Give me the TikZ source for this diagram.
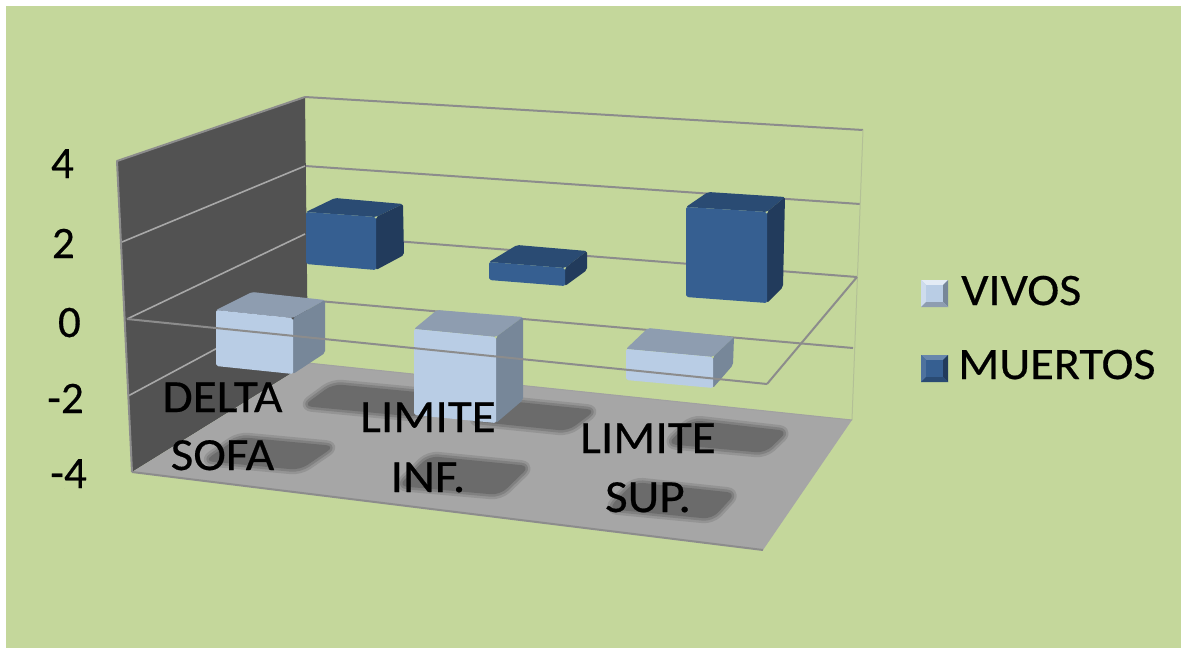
\documentclass[tikz,border=0pt]{standalone}
\usepackage{fontspec}
\setmainfont{Carlito}[FakeBold=0.4]
\newfontfamily\chartfont{Carlito}[FakeBold=0.4]
\definecolor{bgc}{HTML}{C4D79B}
\definecolor{wallc}{HTML}{525252}
\definecolor{floorc}{HTML}{A6A6A6}
\definecolor{shadc}{HTML}{6B6B6B}
\definecolor{gridc}{HTML}{8C8C8C}
\definecolor{sgridc}{HTML}{A8A8A8}
\definecolor{vfront}{HTML}{B9CDE5}
\definecolor{vtop}{HTML}{8E9DB0}
\definecolor{vside}{HTML}{778799}
\definecolor{mfront}{HTML}{365F91}
\definecolor{mtop}{HTML}{2A4B73}
\definecolor{mside}{HTML}{223B5C}
\tikzset{
  gridline/.style={draw=gridc, line width=2pt},
  sgridline/.style={draw=sgridc, line width=1.6pt},
  catlab/.style={font=\chartfont\fontsize{46}{56}\selectfont, inner sep=0pt, anchor=base, text=black, xscale=1.07},
  axlab/.style={font=\chartfont\fontsize{45}{54}\selectfont, inner sep=0pt, anchor=base east, text=black},
  leglab/.style={font=\chartfont\fontsize{45}{54}\selectfont, inner sep=0pt, anchor=base west, text=black, xscale=1.07},
  shadowhalo/.style={draw=shadc!30!floorc, line width=10pt, rounded corners=9pt, line join=round},
  shadowmid/.style={draw=shadc!65!floorc, line width=5pt, rounded corners=9pt, line join=round},
  shadowcore/.style={fill=shadc, rounded corners=9pt},
}
% #1 series prefix, #2 TL, #3 TR, #4 BR, #5 BL, #6 top back-left, #7 top back-right, #8 side back-bottom
\newcommand\chartbar[8]{%
  \fill[#1top, rounded corners=2pt] (#2) -- (#6) -- (#7) -- (#3) -- cycle;
  \fill[#1side, rounded corners=2pt] (#3) -- (#7) -- (#8) -- (#4) -- cycle;
  \fill[#1front, rounded corners=2pt] (#2) -- (#3) -- (#4) -- (#5) -- cycle;
}
\newcommand\shadowblob[4]{%
  \draw[shadowhalo] (#1) -- (#2) -- (#3) -- (#4) -- cycle;
  \draw[shadowmid] (#1) -- (#2) -- (#3) -- (#4) -- cycle;
  \fill[shadowcore] (#1) -- (#2) -- (#3) -- (#4) -- cycle;
}
\begin{document}
\begin{tikzpicture}[x=1pt,y=-1pt]
\useasboundingbox (0,0) rectangle (1181,648);
% background
\fill[bgc] (0,0) rectangle (1181,648);
\fill[white] (0,0) rectangle (1181,6);
\fill[white] (0,0) rectangle (6,648);
% back wall grid lines
\coordinate (b4l) at (305,97);  \coordinate (b4r) at (863,130);
\coordinate (b2l) at (305,166); \coordinate (b2r) at (860,204);
\coordinate (b0l) at (305,234); \coordinate (b0r) at (857,277);
\coordinate (bm2l) at (307,300); \coordinate (bm2r) at (853,348);
\coordinate (fbl) at (308,363); \coordinate (fbr) at (852,420);
\coordinate (ffl) at (132,472); \coordinate (ffr) at (763,550);
\coordinate (w4) at (117,161); \coordinate (w2) at (122,242);
\coordinate (w0) at (127,319); \coordinate (wm2) at (128,396);
\coordinate (p0fr) at (767,384);
\draw[gridline] (b4l) -- (b4r);
\draw[gridline] (b2l) -- (b2r);
\draw[gridline] (b0l) -- (b0r);
\draw[gridline] (bm2l) -- (bm2r);
\draw[draw=gridc!30!bgc, line width=1pt] (b4r) -- (fbr);
% zero plane, right edge
\draw[gridline] (b0r) -- (p0fr);
% left wall
\fill[wallc] (w4) -- (b4l) -- (fbl) -- (ffl) -- cycle;
\draw[sgridline] (w2) -- (b2l);
\draw[sgridline] (w0) -- (b0l);
\draw[sgridline] (wm2) -- (bm2l);
\draw[draw=gridc, line width=2pt, line join=round] (ffl) -- (w4) -- (b4l);
% floor
\fill[floorc] (ffl) -- (fbl) -- (fbr) -- (ffr) -- cycle;
\begin{scope}
\clip (ffl) -- (fbl) -- (fbr) -- (ffr) -- cycle;
% shadows, back row
\shadowblob{303,406}{418,417}{448,395}{333,384}
\shadowblob{470,421}{568,431}{596,410}{498,400}
\shadowblob{667,444}{765,453}{788,431}{692,420}
% shadows, front row
\shadowblob{204,461}{300,470}{335,446}{239,437}
\shadowblob{398,486}{500,495}{530,466}{429,456}
\shadowblob{608,509}{712,519}{736,493}{634,482}
\end{scope}
\draw[draw=gridc, line width=2pt] (ffl) -- (ffr);
\draw[draw=floorc!80!gridc, line width=1pt] (fbl) -- (fbr);
% MUERTOS bars
\chartbar{m}{306,212}{376,217}{376,270}{306,264}{335,198}{403,204}{404,255}
\chartbar{m}{489,262}{565,268}{565,286}{489,280}{517,245}{587,251}{587,270}
\chartbar{m}{686,207}{767,212}{767,303}{686,297}{708,192}{785,197}{783,287}
% VIVOS bars
\chartbar{v}{216,310}{293,318}{293,374}{216,366}{252,292}{325,300}{325,353}
\chartbar{v}{414,329}{496,337}{496,423}{414,415}{437,310}{523,317}{523,400}
\chartbar{v}{626,349}{713,357}{713,388}{626,380}{648,328}{734,337}{733,365}
% zero plane front edge (over the bars)
\draw[gridline] (w0) -- (p0fr);
% category labels
\node[catlab] (ds1) at (222.5,412) {DELTA};
\node[catlab] (ds2) at (222.5,470) {SOFA};
\node[catlab] (li1) at (428,432) {LIMITE};
\node[catlab] (li2) at (428,492) {INF.};
\node[catlab] (ls1) at (648,453) {LIMITE};
\node[catlab] (ls2) at (648,512) {SUP.};
% value axis labels
\node[axlab] (a4) at (74,178) {4};
\node[axlab] (a2) at (75,258) {2};
\node[axlab] (a0) at (81,337) {0};
\node[axlab] (am2) at (84,413) {-2};
\node[axlab] (am4) at (87,488) {-4};
% legend
\fill[vfront] (921,280) rectangle (948,307);
\fill[white!60!vfront] (921,280) -- (948,280) -- (934.5,293.5) -- cycle;
\fill[white!30!vfront] (921,280) -- (934.5,293.5) -- (921,307) -- cycle;
\fill[vside] (948,280) -- (948,307) -- (934.5,293.5) -- cycle;
\fill[vtop] (921,307) -- (948,307) -- (934.5,293.5) -- cycle;
\fill[vfront] (926,285) rectangle (943,302);
\node[leglab] (lv) at (961,305) {VIVOS};
\fill[mfront] (921,355) rectangle (948,382);
\fill[white!25!mfront] (921,355) -- (948,355) -- (934.5,368.5) -- cycle;
\fill[white!12!mfront] (921,355) -- (934.5,368.5) -- (921,382) -- cycle;
\fill[mside] (948,355) -- (948,382) -- (934.5,368.5) -- cycle;
\fill[mtop] (921,382) -- (948,382) -- (934.5,368.5) -- cycle;
\fill[mfront] (926,360) rectangle (943,377);
\node[leglab] (lm) at (958,379) {MUERTOS};
\end{tikzpicture}
\end{document}
